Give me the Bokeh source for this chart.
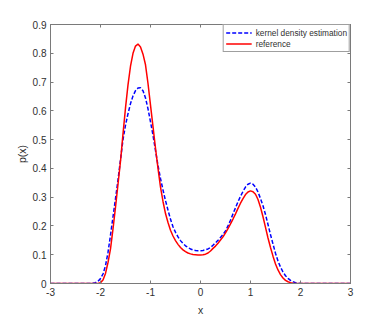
from bokeh.plotting import figure
from bokeh.models import (Range1d, LinearAxis, FixedTicker, CustomJSTickFormatter,
                          Legend, LegendItem)
from bokeh.embed import file_html
from bokeh.resources import INLINE

# ---- data ----
ref_x = [-3.0,
         -2.05, -2.0, -1.95, -1.9, -1.85, -1.8, -1.75, -1.7, -1.65, -1.6,
         -1.55, -1.5, -1.45, -1.4, -1.35, -1.3, -1.25, -1.2, -1.15, -1.1,
         -1.05, -1.0, -0.95, -0.9, -0.85, -0.8, -0.75, -0.7, -0.65, -0.6,
         -0.55, -0.5, -0.45, -0.4, -0.35, -0.3, -0.25, -0.2, -0.15, -0.1,
         -0.05, 0.0, 0.05, 0.1, 0.15, 0.2, 0.25, 0.3, 0.35, 0.4,
         0.45, 0.5, 0.55, 0.6, 0.65, 0.7, 0.75, 0.8, 0.85, 0.9,
         0.95, 1.0, 1.05, 1.1, 1.15, 1.2, 1.25, 1.3, 1.35, 1.4,
         1.45, 1.5, 1.55, 1.6, 1.65, 1.7, 1.75, 1.8, 1.85, 1.9,
         3.0]
ref_y = [0.0,
         0.0, 0.003, 0.012, 0.035, 0.073, 0.12, 0.19, 0.265, 0.345, 0.425,
         0.52, 0.61, 0.69, 0.755, 0.80, 0.825, 0.832, 0.822, 0.797, 0.76,
         0.695, 0.62, 0.545, 0.47, 0.40, 0.335, 0.285, 0.243, 0.212, 0.185,
         0.165, 0.149, 0.136, 0.125, 0.117, 0.111, 0.106, 0.103, 0.101, 0.100,
         0.099, 0.099, 0.100, 0.102, 0.106, 0.113, 0.122, 0.130, 0.140, 0.151,
         0.162, 0.176, 0.191, 0.207, 0.224, 0.242, 0.261, 0.279, 0.295, 0.309,
         0.318, 0.322, 0.319, 0.310, 0.292, 0.265, 0.232, 0.195, 0.158, 0.125,
         0.095, 0.068, 0.047, 0.031, 0.019, 0.011, 0.006, 0.003, 0.001, 0.0,
         0.0]

kde_x = [-3.0,
         -2.2, -2.15, -2.1, -2.05,
         -2.0, -1.95, -1.9, -1.85, -1.8, -1.75, -1.7, -1.65, -1.6, -1.55,
         -1.5, -1.45, -1.4, -1.35, -1.3, -1.25, -1.2, -1.15, -1.1, -1.05,
         -1.0, -0.95, -0.9, -0.85, -0.8, -0.75, -0.7, -0.65, -0.6, -0.55,
         -0.5, -0.45, -0.4, -0.35, -0.3, -0.25, -0.2, -0.15, -0.1, -0.05,
         0.0, 0.05, 0.1, 0.15, 0.2, 0.25, 0.3, 0.35, 0.4, 0.45,
         0.5, 0.55, 0.6, 0.65, 0.7, 0.75, 0.8, 0.85, 0.9, 0.95,
         1.0, 1.05, 1.1, 1.15, 1.2, 1.25, 1.3, 1.35, 1.4, 1.45,
         1.5, 1.55, 1.6, 1.65, 1.7, 1.75, 1.8, 1.85, 1.9, 1.95,
         2.0, 2.05,
         3.0]
kde_y = [0.0,
         0.0, 0.001, 0.003, 0.008,
         0.017, 0.033, 0.062, 0.108, 0.168, 0.232, 0.295, 0.36, 0.43, 0.50,
         0.55, 0.59, 0.625, 0.652, 0.670, 0.679, 0.680, 0.670, 0.645, 0.607,
         0.562, 0.515, 0.462, 0.41, 0.365, 0.325, 0.288, 0.255, 0.223, 0.197,
         0.178, 0.162, 0.149, 0.139, 0.131, 0.125, 0.120, 0.117, 0.115, 0.114,
         0.114, 0.115, 0.117, 0.120, 0.125, 0.133, 0.141, 0.150, 0.160, 0.170,
         0.183, 0.200, 0.220, 0.242, 0.263, 0.284, 0.303, 0.320, 0.335, 0.345,
         0.349, 0.345, 0.335, 0.318, 0.295, 0.270, 0.240, 0.205, 0.170, 0.137,
         0.105, 0.078, 0.057, 0.040, 0.027, 0.018, 0.011, 0.006, 0.003, 0.001,
         0.0, 0.0,
         0.0]

x_ticks = [-3, -2, -1, 0, 1, 2, 3]
y_ticks = [0, 0.1, 0.2, 0.3, 0.4, 0.5, 0.6, 0.7, 0.8, 0.9]
legend_labels = ["kernel density estimation", "reference"]
x_label = "x"
y_label = "p(x)"

assert len(ref_x) == len(ref_y)
assert len(kde_x) == len(kde_y)

FONT = "Liberation Sans"
AXIS_COL = "#7a7a7a"
TEXT_COL = "#303030"

p = figure(width=380, height=318, output_backend="svg", toolbar_location=None,
           x_range=Range1d(-3, 3), y_range=Range1d(0, 0.9),
           min_border_left=50, min_border_right=30, min_border_top=24,
           min_border_bottom=34)
p.grid.visible = False
p.outline_line_color = AXIS_COL
p.background_fill_color = "white"
p.border_fill_color = "white"

r_kde = p.line(kde_x, kde_y, line_color="#0000ff", line_width=1.5, line_dash="4 2")
r_ref = p.line(ref_x, ref_y, line_color="#ff0000", line_width=1.5)

xfmt = CustomJSTickFormatter(code="return tick.toFixed(0);")
yfmt = CustomJSTickFormatter(code="return tick.toFixed(1).replace(/\\.0$/, '');")
nofmt = CustomJSTickFormatter(code="return '';")

def style(ax, show_labels):
    ax.axis_line_color = AXIS_COL
    ax.major_tick_line_color = AXIS_COL
    ax.major_tick_in = 3
    ax.major_tick_out = 0
    ax.minor_tick_line_color = None
    ax.major_label_text_font = FONT
    ax.axis_label_text_font = FONT
    ax.axis_label_text_color = TEXT_COL
    ax.axis_label_text_font_style = "normal"
    if show_labels:
        ax.major_label_text_color = TEXT_COL
        ax.major_label_text_font_size = "10px"
        ax.axis_label_text_font_size = "10.5px"
        ax.major_label_standoff = 4
        ax.axis_label_standoff = 5
    else:
        ax.formatter = nofmt
        ax.major_label_text_color = None
        ax.major_label_standoff = 0

xa = p.xaxis[0]
xa.ticker = FixedTicker(ticks=x_ticks)
xa.formatter = xfmt
xa.axis_label = x_label
style(xa, True)

ya = p.yaxis[0]
ya.ticker = FixedTicker(ticks=y_ticks)
ya.formatter = yfmt
ya.axis_label = y_label
style(ya, True)
ya.axis_label_standoff = 2

top = LinearAxis(ticker=FixedTicker(ticks=x_ticks))
style(top, False)
p.add_layout(top, "above")
right = LinearAxis(ticker=FixedTicker(ticks=y_ticks))
style(right, False)
p.add_layout(right, "right")

legend = Legend(items=[LegendItem(label=legend_labels[0], renderers=[r_kde]),
                       LegendItem(label=legend_labels[1], renderers=[r_ref])],
                location="top_right")
legend.margin = 0
legend.padding = 2
legend.spacing = 0
legend.label_height = 11
legend.glyph_height = 11
legend.glyph_width = 26
legend.label_standoff = 4
legend.label_text_font = FONT
legend.label_text_font_size = "8.3px"
legend.label_text_color = TEXT_COL
legend.border_line_color = "#404040"
legend.border_line_width = 1
legend.background_fill_color = "white"
legend.background_fill_alpha = 1
p.add_layout(legend, "center")

open("out.html", "w").write(file_html(p, INLINE))
